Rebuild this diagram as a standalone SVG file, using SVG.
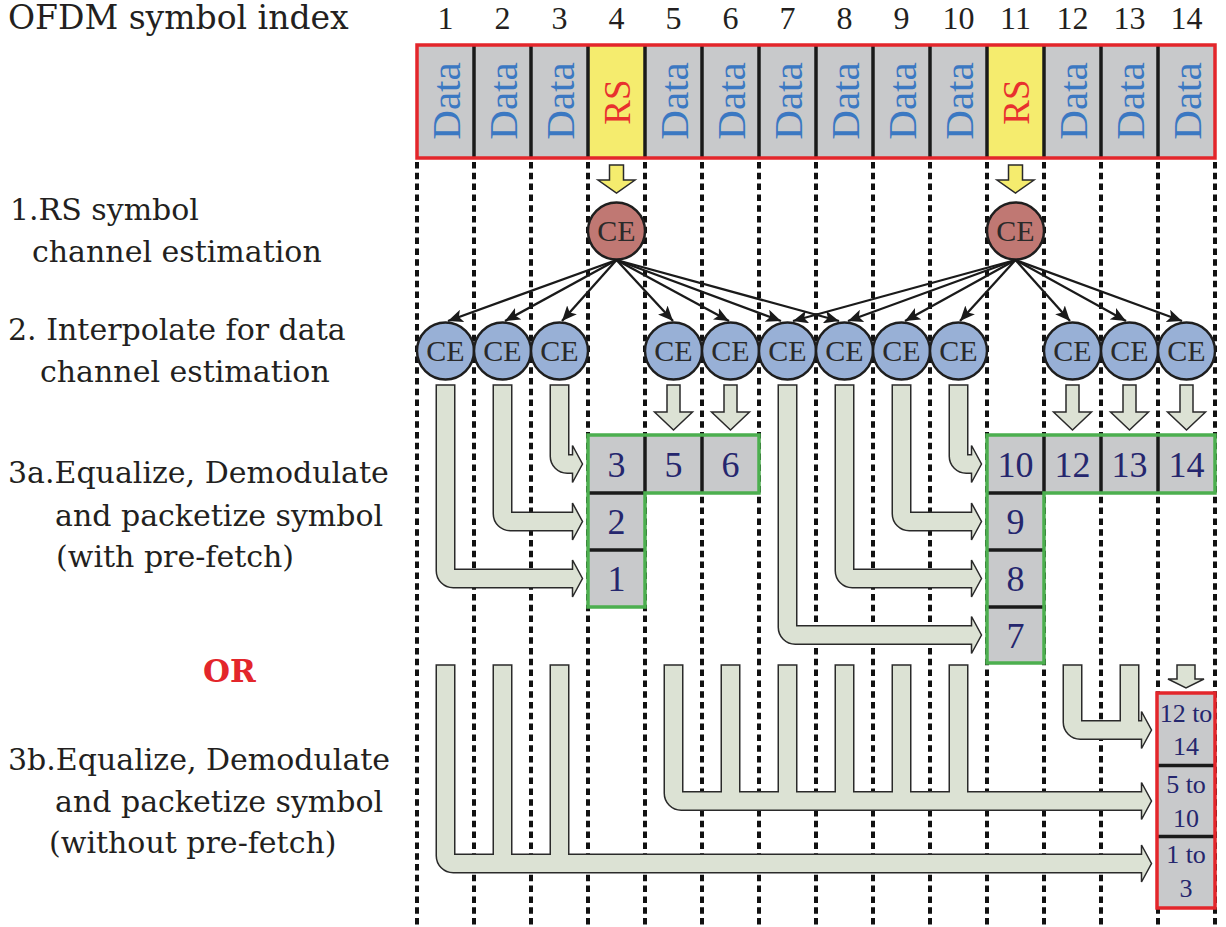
<svg xmlns="http://www.w3.org/2000/svg" width="1226" height="927" viewBox="0 0 1226 927">
<style>
.lbl{font-family:"DejaVu Serif",serif;font-size:30px;fill:#231f20}
.num{font-family:"Liberation Serif",serif;font-size:32px;fill:#231f20;text-anchor:middle}
.data{font-family:"Liberation Serif",serif;font-size:41px;fill:#3b78c2;text-anchor:middle}
.rs{font-family:"Liberation Serif",serif;font-size:37px;fill:#e8302e;text-anchor:middle}
.ce{font-family:"Liberation Serif",serif;font-size:30px;fill:#2a2a2a;text-anchor:middle}
.cell{fill:#c8c9cb}
.cn{font-family:"Liberation Serif",serif;font-size:36px;fill:#25266e;text-anchor:middle}
.rn{font-family:"Liberation Serif",serif;font-size:26px;fill:#25266e;text-anchor:middle}
.dot{stroke:#111;stroke-width:4;stroke-dasharray:6.5 4.3;fill:none}
.div{stroke:#1a1a1a;stroke-width:3.5}
.blk{fill:#dce2d4;stroke:#2a2a2a;stroke-width:1.5;stroke-linejoin:miter}
.yel{fill:#f5ec6e;stroke:#2a2a2a;stroke-width:1.5}
.red{fill:#c07873;stroke:#1e1e1e;stroke-width:2.5}
.blue{fill:#98b0d6;stroke:#1e1e1e;stroke-width:2.5}
.ln{stroke:#1a1a1a;stroke-width:2.3;fill:none;marker-end:url(#ah)}
</style>
<defs>
<marker id="ah" markerUnits="userSpaceOnUse" markerWidth="16" markerHeight="13" refX="15" refY="6.5" orient="auto">
<path d="M0,0 L15,6.5 L0,13 L3.5,6.5 Z" fill="#1a1a1a"/>
</marker>
</defs>
<rect width="1226" height="927" fill="#ffffff"/>

<g id="labels">
<text x="8" y="29" style="font-family:'DejaVu Serif',serif;font-size:33px;fill:#231f20">OFDM symbol index</text>
<text class="lbl" x="10" y="220">1.RS symbol</text>
<text class="lbl" x="32" y="262">channel estimation</text>
<text class="lbl" x="8" y="340">2. Interpolate for data</text>
<text class="lbl" x="40" y="382">channel estimation</text>
<text class="lbl" x="8" y="483">3a.Equalize, Demodulate</text>
<text class="lbl" x="55" y="526">and packetize symbol</text>
<text class="lbl" x="56" y="567">(with pre-fetch)</text>
<text x="203" y="682" style="font-family:'DejaVu Serif',serif;font-size:31px;font-weight:bold;fill:#e3262b">OR</text>
<text class="lbl" x="8" y="770">3b.Equalize, Demodulate</text>
<text class="lbl" x="55" y="812">and packetize symbol</text>
<text class="lbl" x="49" y="853">(without pre-fetch)</text>
</g>

<g id="index-numbers">
<text class="num" x="445.5" y="29">1</text>
<text class="num" x="502.5" y="29">2</text>
<text class="num" x="559.5" y="29">3</text>
<text class="num" x="616.5" y="29">4</text>
<text class="num" x="673.5" y="29">5</text>
<text class="num" x="730.5" y="29">6</text>
<text class="num" x="787.5" y="29">7</text>
<text class="num" x="844.5" y="29">8</text>
<text class="num" x="901.5" y="29">9</text>
<text class="num" x="958.5" y="29">10</text>
<text class="num" x="1015.5" y="29">11</text>
<text class="num" x="1072.5" y="29">12</text>
<text class="num" x="1129.5" y="29">13</text>
<text class="num" x="1186.5" y="29">14</text>
</g>

<g id="gridlines">
<line class="dot" x1="417" y1="162" x2="417" y2="925"/>
<line class="dot" x1="474" y1="162" x2="474" y2="925"/>
<line class="dot" x1="531" y1="162" x2="531" y2="925"/>
<line class="dot" x1="588" y1="162" x2="588" y2="925"/>
<line class="dot" x1="645" y1="162" x2="645" y2="925"/>
<line class="dot" x1="702" y1="162" x2="702" y2="925"/>
<line class="dot" x1="759" y1="162" x2="759" y2="925"/>
<line class="dot" x1="816" y1="162" x2="816" y2="925"/>
<line class="dot" x1="873" y1="162" x2="873" y2="925"/>
<line class="dot" x1="930" y1="162" x2="930" y2="925"/>
<line class="dot" x1="987" y1="162" x2="987" y2="925"/>
<line class="dot" x1="1044" y1="162" x2="1044" y2="925"/>
<line class="dot" x1="1101" y1="162" x2="1101" y2="925"/>
<line class="dot" x1="1158" y1="162" x2="1158" y2="925"/>
<line class="dot" x1="1215" y1="162" x2="1215" y2="925"/>
</g>

<g id="symbol-row">
<rect class="cell" x="417" y="45" width="798" height="113"/>
<rect x="588" y="45" width="57" height="113" fill="#f5ec6e"/>
<rect x="987" y="45" width="57" height="113" fill="#f5ec6e"/>
<line class="div" x1="474" y1="45" x2="474" y2="158"/>
<line class="div" x1="531" y1="45" x2="531" y2="158"/>
<line class="div" x1="588" y1="45" x2="588" y2="158"/>
<line class="div" x1="645" y1="45" x2="645" y2="158"/>
<line class="div" x1="702" y1="45" x2="702" y2="158"/>
<line class="div" x1="759" y1="45" x2="759" y2="158"/>
<line class="div" x1="816" y1="45" x2="816" y2="158"/>
<line class="div" x1="873" y1="45" x2="873" y2="158"/>
<line class="div" x1="930" y1="45" x2="930" y2="158"/>
<line class="div" x1="987" y1="45" x2="987" y2="158"/>
<line class="div" x1="1044" y1="45" x2="1044" y2="158"/>
<line class="div" x1="1101" y1="45" x2="1101" y2="158"/>
<line class="div" x1="1158" y1="45" x2="1158" y2="158"/>
<rect x="417" y="45" width="798" height="113" fill="none" stroke="#e3262b" stroke-width="3.5"/>
<text class="data" transform="translate(460,101) rotate(-90)">Data</text>
<text class="data" transform="translate(517,101) rotate(-90)">Data</text>
<text class="data" transform="translate(574,101) rotate(-90)">Data</text>
<text class="rs" transform="translate(629.5,102) rotate(-90)">RS</text>
<text class="data" transform="translate(688,101) rotate(-90)">Data</text>
<text class="data" transform="translate(745,101) rotate(-90)">Data</text>
<text class="data" transform="translate(802,101) rotate(-90)">Data</text>
<text class="data" transform="translate(859,101) rotate(-90)">Data</text>
<text class="data" transform="translate(916,101) rotate(-90)">Data</text>
<text class="data" transform="translate(973,101) rotate(-90)">Data</text>
<text class="rs" transform="translate(1028.5,102) rotate(-90)">RS</text>
<text class="data" transform="translate(1087,101) rotate(-90)">Data</text>
<text class="data" transform="translate(1144,101) rotate(-90)">Data</text>
<text class="data" transform="translate(1201,101) rotate(-90)">Data</text>
</g>

<g id="ce-rs4"><circle class="red" cx="616.5" cy="231" r="28.5"/><text class="ce" x="616.5" y="241">CE</text></g>
<g id="ce-rs11"><circle class="red" cx="1015.5" cy="231" r="28.5"/><text class="ce" x="1015.5" y="241">CE</text></g>

<g id="ce-data">
<g id="ce1"><circle class="blue" cx="445.5" cy="351" r="28.5"/><text class="ce" x="445.5" y="361">CE</text></g>
<g id="ce2"><circle class="blue" cx="502.5" cy="351" r="28.5"/><text class="ce" x="502.5" y="361">CE</text></g>
<g id="ce3"><circle class="blue" cx="559.5" cy="351" r="28.5"/><text class="ce" x="559.5" y="361">CE</text></g>
<g id="ce5"><circle class="blue" cx="673.5" cy="351" r="28.5"/><text class="ce" x="673.5" y="361">CE</text></g>
<g id="ce6"><circle class="blue" cx="730.5" cy="351" r="28.5"/><text class="ce" x="730.5" y="361">CE</text></g>
<g id="ce7"><circle class="blue" cx="787.5" cy="351" r="28.5"/><text class="ce" x="787.5" y="361">CE</text></g>
<g id="ce8"><circle class="blue" cx="844.5" cy="351" r="28.5"/><text class="ce" x="844.5" y="361">CE</text></g>
<g id="ce9"><circle class="blue" cx="901.5" cy="351" r="28.5"/><text class="ce" x="901.5" y="361">CE</text></g>
<g id="ce10"><circle class="blue" cx="958.5" cy="351" r="28.5"/><text class="ce" x="958.5" y="361">CE</text></g>
<g id="ce12"><circle class="blue" cx="1072.5" cy="351" r="28.5"/><text class="ce" x="1072.5" y="361">CE</text></g>
<g id="ce13"><circle class="blue" cx="1129.5" cy="351" r="28.5"/><text class="ce" x="1129.5" y="361">CE</text></g>
<g id="ce14"><circle class="blue" cx="1186.5" cy="351" r="28.5"/><text class="ce" x="1186.5" y="361">CE</text></g>
</g>

<g id="box-3a-left">
<rect class="cell" x="588" y="435" width="171" height="58"/>
<rect class="cell" x="588" y="493" width="57" height="114"/>
<line class="div" x1="645" y1="435" x2="645" y2="493"/>
<line class="div" x1="702" y1="435" x2="702" y2="493"/>
<line class="div" x1="588" y1="493" x2="645" y2="493"/>
<line class="div" x1="588" y1="550" x2="645" y2="550"/>
<path d="M588,435 L759,435 L759,493 L645,493 L645,607 L588,607 Z" fill="none" stroke="#4caf4f" stroke-width="3.5"/>
<text class="cn" x="616.5" y="476.5">3</text>
<text class="cn" x="673.5" y="476.5">5</text>
<text class="cn" x="730.5" y="476.5">6</text>
<text class="cn" x="616.5" y="534">2</text>
<text class="cn" x="616.5" y="591">1</text>
</g>

<g id="box-3a-right">
<rect class="cell" x="987" y="435" width="228" height="58"/>
<rect class="cell" x="987" y="493" width="57" height="170"/>
<line class="div" x1="1044" y1="435" x2="1044" y2="493"/>
<line class="div" x1="1101" y1="435" x2="1101" y2="493"/>
<line class="div" x1="1158" y1="435" x2="1158" y2="493"/>
<line class="div" x1="987" y1="493" x2="1044" y2="493"/>
<line class="div" x1="987" y1="550" x2="1044" y2="550"/>
<line class="div" x1="987" y1="607" x2="1044" y2="607"/>
<path d="M987,435 L1215,435 L1215,493 L1044,493 L1044,663 L987,663 Z" fill="none" stroke="#4caf4f" stroke-width="3.5"/>
<text class="cn" x="1015.5" y="476.5">10</text>
<text class="cn" x="1072.5" y="476.5">12</text>
<text class="cn" x="1129.5" y="476.5">13</text>
<text class="cn" x="1186.5" y="476.5">14</text>
<text class="cn" x="1015.5" y="534">9</text>
<text class="cn" x="1015.5" y="591">8</text>
<text class="cn" x="1015.5" y="647.5">7</text>
</g>

<g id="box-3b">
<rect class="cell" x="1157" y="693" width="58" height="215"/>
<line class="div" x1="1157" y1="765.5" x2="1215" y2="765.5"/>
<line class="div" x1="1157" y1="836.5" x2="1215" y2="836.5"/>
<rect x="1157" y="693" width="58" height="215" fill="none" stroke="#e3262b" stroke-width="3.5"/>
<text class="rn" x="1186" y="722">12 to</text>
<text class="rn" x="1186" y="755">14</text>
<text class="rn" x="1186" y="793">5 to</text>
<text class="rn" x="1186" y="826.5">10</text>
<text class="rn" x="1186" y="862.5">1 to</text>
<text class="rn" x="1186" y="896.5">3</text>
</g>

<g id="connectors">
<path class="yel" d="M609.5,165 L623.5,165 L623.5,180 L635,180 L616.5,193 L598,180 L609.5,180 Z"/>
<path class="yel" d="M1008.5,165 L1022.5,165 L1022.5,180 L1034,180 L1015.5,193 L997,180 L1008.5,180 Z"/>

<line class="ln" x1="616.5" y1="260" x2="448" y2="321"/>
<line class="ln" x1="616.5" y1="260" x2="505" y2="321"/>
<line class="ln" x1="616.5" y1="260" x2="562" y2="321"/>
<line class="ln" x1="616.5" y1="260" x2="673" y2="321"/>
<line class="ln" x1="616.5" y1="260" x2="729" y2="321"/>
<line class="ln" x1="616.5" y1="260" x2="781" y2="321"/>
<line class="ln" x1="616.5" y1="260" x2="839" y2="321"/>
<line class="ln" x1="1015.5" y1="260" x2="793" y2="321"/>
<line class="ln" x1="1015.5" y1="260" x2="848" y2="321"/>
<line class="ln" x1="1015.5" y1="260" x2="905" y2="321"/>
<line class="ln" x1="1015.5" y1="260" x2="960" y2="321"/>
<line class="ln" x1="1015.5" y1="260" x2="1070" y2="321"/>
<line class="ln" x1="1015.5" y1="260" x2="1126" y2="321"/>
<line class="ln" x1="1015.5" y1="260" x2="1182" y2="321"/>

<path class="blk" d="M436.25,385 L454.75,385 L454.75,569.25 L572.5,569.25 L572.5,560 L582.5,578.5 L572.5,597 L572.5,587.75 L453.25,587.75 A17,17 0 0 1 436.25,570.75 Z"/>
<path class="blk" d="M493.25,385 L511.75,385 L511.75,512.25 L572.5,512.25 L572.5,503 L582.5,521.5 L572.5,540 L572.5,530.75 L510.25,530.75 A17,17 0 0 1 493.25,513.75 Z"/>
<path class="blk" d="M550.25,385 L568.75,385 L568.75,454.75 L572.5,454.75 L572.5,445.5 L582.5,464 L572.5,482.5 L572.5,473.25 L567.25,473.25 A17,17 0 0 1 550.25,456.25 Z"/>
<path class="blk" d="M778.25,385 L796.75,385 L796.75,625.75 L971.5,625.75 L971.5,616.5 L981.5,635 L971.5,653.5 L971.5,644.25 L795.25,644.25 A17,17 0 0 1 778.25,627.25 Z"/>
<path class="blk" d="M835.25,385 L853.75,385 L853.75,569.25 L971.5,569.25 L971.5,560 L981.5,578.5 L971.5,597 L971.5,587.75 L852.25,587.75 A17,17 0 0 1 835.25,570.75 Z"/>
<path class="blk" d="M892.25,385 L910.75,385 L910.75,512.25 L971.5,512.25 L971.5,503 L981.5,521.5 L971.5,540 L971.5,530.75 L909.25,530.75 A17,17 0 0 1 892.25,513.75 Z"/>
<path class="blk" d="M949.25,385 L967.75,385 L967.75,454.75 L971.5,454.75 L971.5,445.5 L981.5,464 L971.5,482.5 L971.5,473.25 L966.25,473.25 A17,17 0 0 1 949.25,456.25 Z"/>

<path class="blk" d="M667,385 L680,385 L680,412 L692.5,412 L673.5,430 L654.5,412 L667,412 Z"/>
<path class="blk" d="M724,385 L737,385 L737,412 L749.5,412 L730.5,430 L711.5,412 L724,412 Z"/>
<path class="blk" d="M1066,385 L1079,385 L1079,412 L1091.5,412 L1072.5,430 L1053.5,412 L1066,412 Z"/>
<path class="blk" d="M1123,385 L1136,385 L1136,412 L1148.5,412 L1129.5,430 L1110.5,412 L1123,412 Z"/>
<path class="blk" d="M1180,385 L1193,385 L1193,412 L1205.5,412 L1186.5,430 L1167.5,412 L1180,412 Z"/>

<path class="blk" d="M1177,665 L1195,665 L1195,679 L1204,679 L1186,688 L1168,679 L1177,679 Z"/>
<path class="blk" d="M1063.25,665 L1081.75,665 L1081.75,720.75 L1120.25,720.75 L1120.25,665 L1138.75,665 L1138.75,720.75 L1141.5,720.75 L1141.5,711.5 L1151.5,730 L1141.5,748.5 L1141.5,739.25 L1080.25,739.25 A17,17 0 0 1 1063.25,722.25 Z"/>
<path class="blk" d="M664.25,665 L682.75,665 L682.75,791.75 L721.25,791.75 L721.25,665 L739.75,665 L739.75,791.75 L778.25,791.75 L778.25,665 L796.75,665 L796.75,791.75 L835.25,791.75 L835.25,665 L853.75,665 L853.75,791.75 L892.25,791.75 L892.25,665 L910.75,665 L910.75,791.75 L949.25,791.75 L949.25,665 L967.75,665 L967.75,791.75 L1141.5,791.75 L1141.5,782.5 L1151.5,801 L1141.5,819.5 L1141.5,810.25 L681.25,810.25 A17,17 0 0 1 664.25,793.25 Z"/>
<path class="blk" d="M436.25,665 L454.75,665 L454.75,854.25 L493.25,854.25 L493.25,665 L511.75,665 L511.75,854.25 L550.25,854.25 L550.25,665 L568.75,665 L568.75,854.25 L1141.5,854.25 L1141.5,845 L1151.5,863.5 L1141.5,882 L1141.5,872.75 L453.25,872.75 A17,17 0 0 1 436.25,855.75 Z"/>
</g>
</svg>
